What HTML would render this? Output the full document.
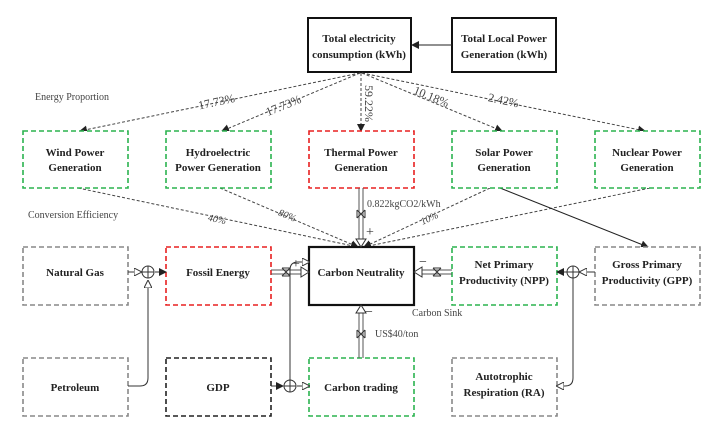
<!DOCTYPE html>
<html><head><style>
body{margin:0;background:#fff;}
svg{display:block;font-family:"Liberation Serif",serif;}
.b{font-weight:bold;font-size:11px;text-anchor:middle;fill:#222}
.l{font-size:10px;fill:#444}
</style></head><body>
<svg width="715" height="428" viewBox="0 0 715 428">
<defs>
<marker id="a" markerWidth="8" markerHeight="8" refX="7" refY="4" orient="auto" markerUnits="userSpaceOnUse"><path d="M0,0L8,4L0,8z" fill="#222"/></marker>
<marker id="o" markerWidth="8" markerHeight="8" refX="7" refY="4" orient="auto" markerUnits="userSpaceOnUse"><path d="M0,0L8,4L0,8z" fill="#fff" stroke="#333"/></marker>
</defs>
<!-- top boxes -->
<rect x="308" y="18" width="103" height="54" fill="none" stroke="#111" stroke-width="2"/>
<text class="b" x="359" y="42">Total electricity</text><text class="b" x="359" y="58">consumption (kWh)</text>
<rect x="452" y="18" width="104" height="54" fill="none" stroke="#111" stroke-width="2"/>
<text class="b" x="504" y="42">Total Local Power</text><text class="b" x="504" y="58">Generation (kWh)</text>
<line x1="452" y1="45" x2="412" y2="45" stroke="#222" marker-end="url(#a)"/>
<text class="l" x="35" y="100">Energy Proportion</text>
<text class="l" x="28" y="218">Conversion Efficiency</text>
<!-- dashed from top -->
<g stroke="#444" stroke-dasharray="3,2" fill="none">
<line x1="360" y1="73" x2="80" y2="131" marker-end="url(#a)"/>
<line x1="360" y1="73" x2="222" y2="131" marker-end="url(#a)"/>
<line x1="361" y1="73" x2="361" y2="131" marker-end="url(#a)"/>
<line x1="362" y1="73" x2="502" y2="131" marker-end="url(#a)"/>
<line x1="362" y1="73" x2="645" y2="131" marker-end="url(#a)"/>
<line x1="78" y1="188" x2="358" y2="247" marker-end="url(#a)"/>
<line x1="220" y1="188" x2="358" y2="247" marker-end="url(#a)"/>
<line x1="490" y1="188" x2="364" y2="247" marker-end="url(#a)"/>
<line x1="650" y1="188" x2="364" y2="247" marker-end="url(#a)"/>
</g>
<g font-size="12" fill="#444">
<text x="198" y="106" fill="#444" transform="rotate(-12 215 102)">17.73%</text>
<text x="265" y="110" transform="rotate(-22 282 106)">17.73%</text>
<text x="365" y="85" transform="rotate(90 365 85)">59.22%</text>
<text x="413" y="100" transform="rotate(22 430 96)">10.18%</text>
<text x="488" y="104" transform="rotate(12 502 100)">2.42%</text>
</g>
<g font-size="10" font-style="italic" fill="#444">
<text x="208" y="222" transform="rotate(12 215 219)">40%</text>
<text x="278" y="219" transform="rotate(22 288 216)">80%</text>
<text x="420" y="222" transform="rotate(-25 428 218)">10%</text>
</g>
<line x1="500" y1="188" x2="648" y2="247" stroke="#222" marker-end="url(#a)"/>
<!-- row 2 -->
<g fill="#fff" stroke-width="1.6" stroke-dasharray="5,3">
<rect x="23" y="131" width="105" height="57" stroke="#2bb34f"/>
<rect x="166" y="131" width="105" height="57" stroke="#2bb34f"/>
<rect x="309" y="131" width="105" height="57" stroke="#e82020"/>
<rect x="452" y="131" width="105" height="57" stroke="#2bb34f"/>
<rect x="595" y="131" width="105" height="57" stroke="#2bb34f"/>
<rect x="23" y="247" width="105" height="58" stroke="#888"/>
<rect x="166" y="247" width="105" height="58" stroke="#e82020"/>
<rect x="452" y="247" width="105" height="58" stroke="#2bb34f"/>
<rect x="595" y="247" width="105" height="58" stroke="#888"/>
<rect x="23" y="358" width="105" height="58" stroke="#888"/>
<rect x="166" y="358" width="105" height="58" stroke="#222"/>
<rect x="309" y="358" width="105" height="58" stroke="#2bb34f"/>
<rect x="452" y="358" width="105" height="58" stroke="#888"/>
</g>
<rect x="309" y="247" width="105" height="58" fill="#fff" stroke="#111" stroke-width="2.2"/>
<text class="b" x="75" y="156">Wind Power</text><text class="b" x="75" y="171">Generation</text>
<text class="b" x="218" y="156">Hydroelectric</text><text class="b" x="218" y="171">Power Generation</text>
<text class="b" x="361" y="156">Thermal Power</text><text class="b" x="361" y="171">Generation</text>
<text class="b" x="504" y="156">Solar Power</text><text class="b" x="504" y="171">Generation</text>
<text class="b" x="647" y="156">Nuclear Power</text><text class="b" x="647" y="171">Generation</text>
<text class="b" x="75" y="276">Natural Gas</text>
<text class="b" x="218" y="276">Fossil Energy</text>
<text class="b" x="361" y="276">Carbon Neutrality</text>
<text class="b" x="504" y="268">Net Primary</text><text class="b" x="504" y="284">Productivity (NPP)</text>
<text class="b" x="647" y="268">Gross Primary</text><text class="b" x="647" y="284">Productivity (GPP)</text>
<text class="b" x="75" y="391">Petroleum</text>
<text class="b" x="218" y="391">GDP</text>
<text class="b" x="361" y="391">Carbon trading</text>
<text class="b" x="504" y="380">Autotrophic</text><text class="b" x="504" y="396">Respiration (RA)</text>
<!-- pipes -->
<g stroke="#555" fill="none" stroke-width="1">
<path d="M359,188V242M363,188V242"/>
<path d="M271,270H303M271,274H303"/>
<path d="M452,270H420M452,274H420"/>
<path d="M359,358V312M363,358V312"/>
</g>
<g fill="#fff" stroke="#333">
<path d="M356,239L361,247L366,239z"/>
<path d="M301,267L309,272L301,277z"/>
<path d="M422,267L414,272L422,277z"/>
<path d="M356,313L361,305L366,313z"/>
</g>
<g stroke="#333" fill="#fff">
<path d="M357,210L365,218M357,218L365,210M357,210V218M365,210V218"/>
<path d="M282,268L290,276M282,276L290,268M282,268H290M282,276H290"/>
<path d="M433,268L441,276M433,276L441,268M433,268H441M433,276H441"/>
<path d="M357,330L365,338M357,338L365,330M357,330V338M365,330V338"/>
</g>
<text class="l" x="367" y="207" font-size="9">0.822kgCO2/kWh</text>
<text x="366" y="236" font-size="14" fill="#333">+</text>
<text x="292" y="268" font-size="14" fill="#333">+</text>
<text x="419" y="266" font-size="14" fill="#333">−</text>
<text x="365" y="316" font-size="14" fill="#333">−</text>
<text class="l" x="412" y="316" font-size="9">Carbon Sink</text>
<text class="l" x="375" y="337" font-size="9">US$40/ton</text>
<!-- junctions -->
<g stroke="#333" fill="none">
<line x1="128" y1="272" x2="141" y2="272" marker-end="url(#o)"/>
<line x1="155" y1="272" x2="166" y2="272" marker-end="url(#a)"/>
<path d="M128,386H140Q148,386 148,378V281" marker-end="url(#o)"/>
<circle cx="148" cy="272" r="6"/><path d="M142,272H154M148,266V278"/>
<line x1="271" y1="386" x2="283" y2="386" marker-end="url(#a)"/>
<line x1="297" y1="386" x2="309" y2="386" marker-end="url(#o)"/>
<path d="M290,380V270Q290,262 298,262H309" marker-end="url(#o)"/>
<circle cx="290" cy="386" r="6"/><path d="M284,386H296M290,380V392"/>
<line x1="595" y1="272" x2="580" y2="272" marker-end="url(#o)"/>
<line x1="567" y1="272" x2="557" y2="272" marker-end="url(#a)"/>
<path d="M573,278V378Q573,386 565,386H557" marker-end="url(#o)"/>
<circle cx="573" cy="272" r="6"/><path d="M567,272H579M573,266V278"/>
</g>
</svg>
</body></html>
